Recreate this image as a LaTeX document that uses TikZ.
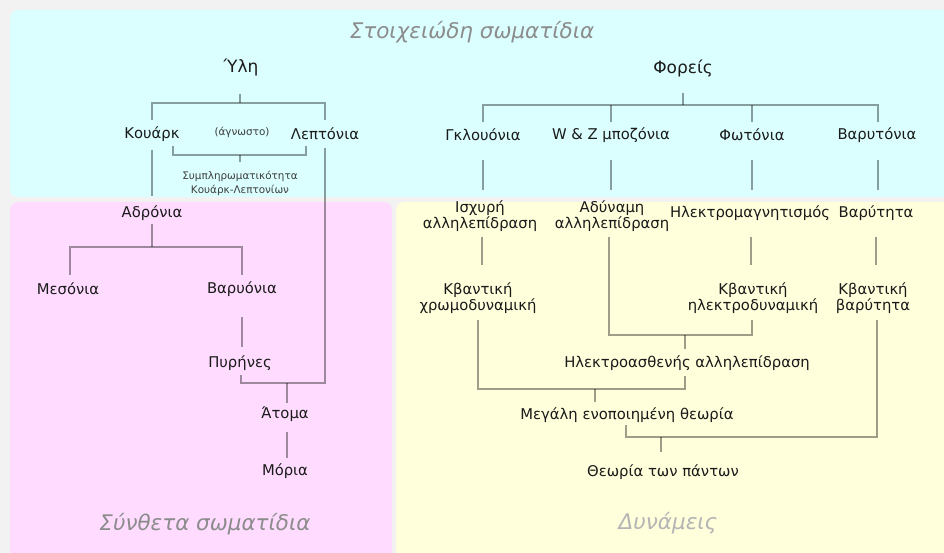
\documentclass[tikz,border=0pt]{standalone}
\usepackage{fontspec}
\setmainfont{DejaVu Sans}
\usetikzlibrary{calc}
\definecolor{bggray}{HTML}{F2F2F2}
\definecolor{cyanbg}{HTML}{DBFFFF}
\definecolor{pinkbg}{HTML}{FFDCFF}
\definecolor{yellowbg}{HTML}{FFFFDC}
\definecolor{txt}{HTML}{1A1A1A}
\definecolor{ttl}{HTML}{8C8C8C}
\definecolor{ttlb}{HTML}{B4B4B4}
\begin{document}
\begin{tikzpicture}[x=1pt,y=-1pt,
  lbl/.style={font=\fontsize{14.8}{16}\selectfont, text=txt, inner sep=0pt, align=center},
  big/.style={font=\fontsize{17}{18}\selectfont, text=txt, inner sep=0pt},
  small/.style={font=\fontsize{10.4}{14}\selectfont, text=txt!85, inner sep=0pt, align=center},
  ttlstyle/.style={font=\fontsize{21.5}{22}\selectfont\itshape, inner sep=0pt},
  conn/.style={draw=black, draw opacity=0.38, line width=1.6pt},
  panel/.style={rounded corners=8pt}]

\fill[bggray] (0,0) rectangle (944,553);
\useasboundingbox (0,0) rectangle (944,553);
\fill[cyanbg, panel] (10,10) rectangle (964,197);
\fill[pinkbg, panel] (10,202) rectangle (392,573);
\fill[yellowbg, panel] (396,202) rectangle (964,573);

% titles
\node[ttlstyle, text=ttl] (t1) at (472,32) {Στοιχειώδη σωματίδια};
\node[ttlstyle, text=ttl] (t2) at (205,524) {Σύνθετα σωματίδια};
\node[ttlstyle, text=ttlb] (t3) at (668,523) {Δυνάμεις};

% matter side
\node[big] (yli) at (241,67) {Ύλη};
\node[lbl] (kouark) at (152,134) {Κουάρκ};
\node[small] (agn) at (242,132) {(άγνωστο)};
\node[lbl] (lept) at (325,134) {Λεπτόνια};
\node[small] (symp) at (240,183) {Συμπληρωματικότητα\\Κουάρκ-Λεπτονίων};
\node[lbl] (adron) at (152,213) {Αδρόνια};
\node[lbl] (meson) at (68,289) {Μεσόνια};
\node[lbl] (baryon) at (242,289) {Βαρυόνια};
\node[lbl] (pyr) at (240,363) {Πυρήνες};
\node[lbl] (atoma) at (285,414) {Άτομα};
\node[lbl] (moria) at (285,471) {Μόρια};

% carriers side
\node[big] (forei) at (683,68) {Φορείς};
\node[lbl] (gluon) at (483,135) {Γκλουόνια};
\node[lbl] (wz) at (611,135) {W \& Z μποζόνια};
\node[lbl] (photon) at (752,135) {Φωτόνια};
\node[lbl] (gravit) at (877,135) {Βαρυτόνια};
\node[lbl] (strong) at (480,216) {Ισχυρή\\αλληλεπίδραση};
\node[lbl] (weak) at (612,216) {Αδύναμη\\αλληλεπίδραση};
\node[lbl] (em) at (750,213) {Ηλεκτρομαγνητισμός};
\node[lbl] (grav) at (876,213) {Βαρύτητα};
\node[lbl] (qcd) at (478,298) {Κβαντική\\χρωμοδυναμική};
\node[lbl] (qed) at (753,298) {Κβαντική\\ηλεκτροδυναμική};
\node[lbl] (qg) at (873,298) {Κβαντική\\βαρύτητα};
\node[lbl] (ew) at (687,363) {Ηλεκτροασθενής αλληλεπίδραση};
\node[lbl] (gut) at (627,415) {Μεγάλη ενοποιημένη θεωρία};
\node[lbl] (toe) at (663,472) {Θεωρία των πάντων};

% connectors, matter
\draw[conn] ($(yli)+(-1,27)$) -- ($(yli)+(-1,36)$);
\draw[conn] ($(kouark)+(0,-14)$) |- ($(yli)+(-1,36)$) -| ($(lept)+(0,-14)$);
\draw[conn] ($(kouark)+(21,12)$) |- ($(symp)+(0,-28)$) -| ($(lept)+(-19,12)$);
\draw[conn] ($(symp)+(0,-28)$) -- ($(symp)+(0,-21)$);
\draw[conn] ($(kouark)+(0,16)$) -- ($(adron)+(0,-17)$);
\draw[conn] ($(adron)+(0,11)$) -- ($(adron)+(0,34)$);
\draw[conn] ($(meson)+(2,-14)$) |- ($(adron)+(0,34)$) -| ($(baryon)+(0,-14)$);
\draw[conn] ($(baryon)+(0,28)$) -- ($(pyr)+(2,-16)$);
\draw[conn] ($(lept)+(0,14)$) |- ($(atoma)+(0,-31)$) -| ($(pyr)+(1,12)$);
\draw[conn] ($(atoma)+(2,-31)$) -- ($(atoma)+(2,-11)$);
\draw[conn] ($(atoma)+(2,18)$) -- ($(moria)+(2,-13)$);

% connectors, carriers
\draw[conn] ($(forei)+(0,25)$) -- ($(forei)+(0,37)$);
\draw[conn] ($(gluon)+(0,-13)$) |- ($(forei)+(0,37)$) -| ($(gravit)+(1,-13)$);
\draw[conn] ($(wz)+(0,-13)$) -- ($(wz)+(0,-30)$);
\draw[conn] ($(photon)+(0,-13)$) -- ($(photon)+(0,-30)$);
\draw[conn] ($(gluon)+(0,25)$) -- ($(strong)+(3,-26)$);
\draw[conn] ($(wz)+(0,25)$) -- ($(weak)+(-1,-26)$);
\draw[conn] ($(photon)+(0,25)$) -- ($(em)+(2,-23)$);
\draw[conn] ($(gravit)+(1,25)$) -- ($(grav)+(2,-23)$);
\draw[conn] ($(strong)+(2,21)$) -- ($(qcd)+(4,-33)$);
\draw[conn] ($(em)+(1,24)$) -- ($(qed)+(-2,-33)$);
\draw[conn] ($(grav)+(0,24)$) -- ($(qg)+(3,-33)$);
\draw[conn] ($(weak)+(-3,21)$) |- ($(ew)+(-2,-28)$) -| ($(qed)+(-1,22)$);
\draw[conn] ($(ew)+(-2,-28)$) -- ($(ew)+(-2,-14)$);
\draw[conn] ($(qcd)+(0,22)$) |- ($(gut)+(-32,-26)$) -| ($(ew)+(-2,13)$);
\draw[conn] ($(gut)+(-32,-26)$) -- ($(gut)+(-32,-13)$);
\draw[conn] ($(gut)+(-1,10)$) |- ($(toe)+(-2,-35)$) -| ($(qg)+(4,22)$);
\draw[conn] ($(toe)+(-2,-35)$) -- ($(toe)+(-2,-20)$);
\end{tikzpicture}
\end{document}
